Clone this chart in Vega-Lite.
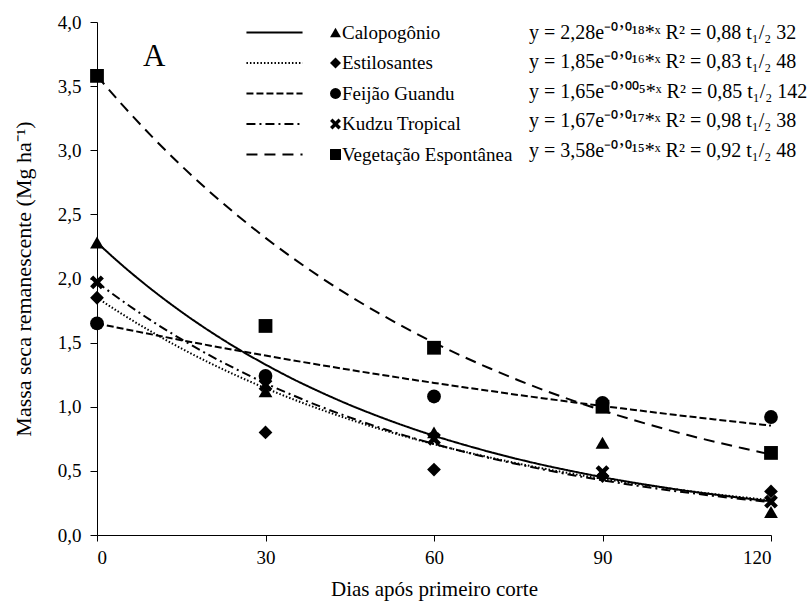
{
  "$schema": "https://vega.github.io/schema/vega-lite/v6.json",
  "autosize": "none",
  "padding": {"left": 97, "top": 22, "right": 36, "bottom": 69},
  "width": 674,
  "height": 513,
  "background": "white",
  "title": {"text": "A", "anchor": "start", "frame": "group", "fontSize": 31, "font": "Liberation Serif", "fontWeight": "normal", "color": "black", "dx": 46, "dy": 84, "offset": 0, "baseline": "alphabetic"},
  "config": {
    "font": "Liberation Serif",
    "view": {"stroke": null},
    "mark": {"color": "black"},
    "axis": {"labelFont": "Liberation Serif", "titleFont": "Liberation Serif", "labelFontSize": 19, "titleFontSize": 21, "titleFontWeight": "normal", "labelColor": "black", "titleColor": "black", "domainColor": "black", "tickColor": "black", "grid": false, "tickSize": 7, "domainWidth": 1, "tickWidth": 1},
    "legend": {"labelFont": "Liberation Serif", "labelFontSize": 19, "labelColor": "black", "padding": 0, "title": null, "labelLimit": 400}
  },
  "datasets": {
    "curvas": [
      {"serie": "Calopogônio", "dias": 0, "massa": 2.280}, {"serie": "Calopogônio", "dias": 5, "massa": 2.084}, {"serie": "Calopogônio", "dias": 10, "massa": 1.905}, {"serie": "Calopogônio", "dias": 15, "massa": 1.741}, {"serie": "Calopogônio", "dias": 20, "massa": 1.591}, {"serie": "Calopogônio", "dias": 25, "massa": 1.454}, {"serie": "Calopogônio", "dias": 30, "massa": 1.329}, {"serie": "Calopogônio", "dias": 35, "massa": 1.214}, {"serie": "Calopogônio", "dias": 40, "massa": 1.110}, {"serie": "Calopogônio", "dias": 45, "massa": 1.014}, {"serie": "Calopogônio", "dias": 50, "massa": 0.927}, {"serie": "Calopogônio", "dias": 55, "massa": 0.847}, {"serie": "Calopogônio", "dias": 60, "massa": 0.774}, {"serie": "Calopogônio", "dias": 65, "massa": 0.708}, {"serie": "Calopogônio", "dias": 70, "massa": 0.647}, {"serie": "Calopogônio", "dias": 75, "massa": 0.591}, {"serie": "Calopogônio", "dias": 80, "massa": 0.540}, {"serie": "Calopogônio", "dias": 85, "massa": 0.494}, {"serie": "Calopogônio", "dias": 90, "massa": 0.451}, {"serie": "Calopogônio", "dias": 95, "massa": 0.412}, {"serie": "Calopogônio", "dias": 100, "massa": 0.377}, {"serie": "Calopogônio", "dias": 105, "massa": 0.344}, {"serie": "Calopogônio", "dias": 110, "massa": 0.315}, {"serie": "Calopogônio", "dias": 115, "massa": 0.288}, {"serie": "Calopogônio", "dias": 120, "massa": 0.263},
      {"serie": "Estilosantes", "dias": 0, "massa": 1.850}, {"serie": "Estilosantes", "dias": 5, "massa": 1.708}, {"serie": "Estilosantes", "dias": 10, "massa": 1.577}, {"serie": "Estilosantes", "dias": 15, "massa": 1.455}, {"serie": "Estilosantes", "dias": 20, "massa": 1.343}, {"serie": "Estilosantes", "dias": 25, "massa": 1.240}, {"serie": "Estilosantes", "dias": 30, "massa": 1.145}, {"serie": "Estilosantes", "dias": 35, "massa": 1.057}, {"serie": "Estilosantes", "dias": 40, "massa": 0.976}, {"serie": "Estilosantes", "dias": 45, "massa": 0.901}, {"serie": "Estilosantes", "dias": 50, "massa": 0.831}, {"serie": "Estilosantes", "dias": 55, "massa": 0.767}, {"serie": "Estilosantes", "dias": 60, "massa": 0.708}, {"serie": "Estilosantes", "dias": 65, "massa": 0.654}, {"serie": "Estilosantes", "dias": 70, "massa": 0.604}, {"serie": "Estilosantes", "dias": 75, "massa": 0.557}, {"serie": "Estilosantes", "dias": 80, "massa": 0.514}, {"serie": "Estilosantes", "dias": 85, "massa": 0.475}, {"serie": "Estilosantes", "dias": 90, "massa": 0.438}, {"serie": "Estilosantes", "dias": 95, "massa": 0.405}, {"serie": "Estilosantes", "dias": 100, "massa": 0.374}, {"serie": "Estilosantes", "dias": 105, "massa": 0.345}, {"serie": "Estilosantes", "dias": 110, "massa": 0.318}, {"serie": "Estilosantes", "dias": 115, "massa": 0.294}, {"serie": "Estilosantes", "dias": 120, "massa": 0.271},
      {"serie": "Feijão Guandu", "dias": 0, "massa": 1.650}, {"serie": "Feijão Guandu", "dias": 5, "massa": 1.605}, {"serie": "Feijão Guandu", "dias": 10, "massa": 1.562}, {"serie": "Feijão Guandu", "dias": 15, "massa": 1.519}, {"serie": "Feijão Guandu", "dias": 20, "massa": 1.478}, {"serie": "Feijão Guandu", "dias": 25, "massa": 1.438}, {"serie": "Feijão Guandu", "dias": 30, "massa": 1.399}, {"serie": "Feijão Guandu", "dias": 35, "massa": 1.361}, {"serie": "Feijão Guandu", "dias": 40, "massa": 1.324}, {"serie": "Feijão Guandu", "dias": 45, "massa": 1.288}, {"serie": "Feijão Guandu", "dias": 50, "massa": 1.253}, {"serie": "Feijão Guandu", "dias": 55, "massa": 1.219}, {"serie": "Feijão Guandu", "dias": 60, "massa": 1.186}, {"serie": "Feijão Guandu", "dias": 65, "massa": 1.154}, {"serie": "Feijão Guandu", "dias": 70, "massa": 1.123}, {"serie": "Feijão Guandu", "dias": 75, "massa": 1.092}, {"serie": "Feijão Guandu", "dias": 80, "massa": 1.063}, {"serie": "Feijão Guandu", "dias": 85, "massa": 1.034}, {"serie": "Feijão Guandu", "dias": 90, "massa": 1.006}, {"serie": "Feijão Guandu", "dias": 95, "massa": 0.979}, {"serie": "Feijão Guandu", "dias": 100, "massa": 0.952}, {"serie": "Feijão Guandu", "dias": 105, "massa": 0.926}, {"serie": "Feijão Guandu", "dias": 110, "massa": 0.901}, {"serie": "Feijão Guandu", "dias": 115, "massa": 0.877}, {"serie": "Feijão Guandu", "dias": 120, "massa": 0.853},
      {"serie": "Kudzu Tropical", "dias": 0, "massa": 1.970}, {"serie": "Kudzu Tropical", "dias": 5, "massa": 1.810}, {"serie": "Kudzu Tropical", "dias": 10, "massa": 1.662}, {"serie": "Kudzu Tropical", "dias": 15, "massa": 1.527}, {"serie": "Kudzu Tropical", "dias": 20, "massa": 1.402}, {"serie": "Kudzu Tropical", "dias": 25, "massa": 1.288}, {"serie": "Kudzu Tropical", "dias": 30, "massa": 1.183}, {"serie": "Kudzu Tropical", "dias": 35, "massa": 1.087}, {"serie": "Kudzu Tropical", "dias": 40, "massa": 0.998}, {"serie": "Kudzu Tropical", "dias": 45, "massa": 0.917}, {"serie": "Kudzu Tropical", "dias": 50, "massa": 0.842}, {"serie": "Kudzu Tropical", "dias": 55, "massa": 0.773}, {"serie": "Kudzu Tropical", "dias": 60, "massa": 0.710}, {"serie": "Kudzu Tropical", "dias": 65, "massa": 0.653}, {"serie": "Kudzu Tropical", "dias": 70, "massa": 0.599}, {"serie": "Kudzu Tropical", "dias": 75, "massa": 0.551}, {"serie": "Kudzu Tropical", "dias": 80, "massa": 0.506}, {"serie": "Kudzu Tropical", "dias": 85, "massa": 0.464}, {"serie": "Kudzu Tropical", "dias": 90, "massa": 0.427}, {"serie": "Kudzu Tropical", "dias": 95, "massa": 0.392}, {"serie": "Kudzu Tropical", "dias": 100, "massa": 0.360}, {"serie": "Kudzu Tropical", "dias": 105, "massa": 0.331}, {"serie": "Kudzu Tropical", "dias": 110, "massa": 0.304}, {"serie": "Kudzu Tropical", "dias": 115, "massa": 0.279}, {"serie": "Kudzu Tropical", "dias": 120, "massa": 0.256},
      {"serie": "Vegetação Espontânea", "dias": 0, "massa": 3.580}, {"serie": "Vegetação Espontânea", "dias": 5, "massa": 3.330}, {"serie": "Vegetação Espontânea", "dias": 10, "massa": 3.097}, {"serie": "Vegetação Espontânea", "dias": 15, "massa": 2.880}, {"serie": "Vegetação Espontânea", "dias": 20, "massa": 2.679}, {"serie": "Vegetação Espontânea", "dias": 25, "massa": 2.492}, {"serie": "Vegetação Espontânea", "dias": 30, "massa": 2.317}, {"serie": "Vegetação Espontânea", "dias": 35, "massa": 2.155}, {"serie": "Vegetação Espontânea", "dias": 40, "massa": 2.004}, {"serie": "Vegetação Espontânea", "dias": 45, "massa": 1.864}, {"serie": "Vegetação Espontânea", "dias": 50, "massa": 1.734}, {"serie": "Vegetação Espontânea", "dias": 55, "massa": 1.613}, {"serie": "Vegetação Espontânea", "dias": 60, "massa": 1.500}, {"serie": "Vegetação Espontânea", "dias": 65, "massa": 1.395}, {"serie": "Vegetação Espontânea", "dias": 70, "massa": 1.298}, {"serie": "Vegetação Espontânea", "dias": 75, "massa": 1.207}, {"serie": "Vegetação Espontânea", "dias": 80, "massa": 1.122}, {"serie": "Vegetação Espontânea", "dias": 85, "massa": 1.044}, {"serie": "Vegetação Espontânea", "dias": 90, "massa": 0.971}, {"serie": "Vegetação Espontânea", "dias": 95, "massa": 0.903}, {"serie": "Vegetação Espontânea", "dias": 100, "massa": 0.840}, {"serie": "Vegetação Espontânea", "dias": 105, "massa": 0.781}, {"serie": "Vegetação Espontânea", "dias": 110, "massa": 0.727}, {"serie": "Vegetação Espontânea", "dias": 115, "massa": 0.676}, {"serie": "Vegetação Espontânea", "dias": 120, "massa": 0.628}
    ],
    "pontos": [
      {"serie": "Calopogônio", "equacao": "y = 2,28e⁻⁰ʼ⁰¹⁸*ˣ R² = 0,88 t₁/₂ 32", "dias": 0, "massa": 2.28},
      {"serie": "Calopogônio", "equacao": "y = 2,28e⁻⁰ʼ⁰¹⁸*ˣ R² = 0,88 t₁/₂ 32", "dias": 30, "massa": 1.12},
      {"serie": "Calopogônio", "equacao": "y = 2,28e⁻⁰ʼ⁰¹⁸*ˣ R² = 0,88 t₁/₂ 32", "dias": 60, "massa": 0.80},
      {"serie": "Calopogônio", "equacao": "y = 2,28e⁻⁰ʼ⁰¹⁸*ˣ R² = 0,88 t₁/₂ 32", "dias": 90, "massa": 0.72},
      {"serie": "Calopogônio", "equacao": "y = 2,28e⁻⁰ʼ⁰¹⁸*ˣ R² = 0,88 t₁/₂ 32", "dias": 120, "massa": 0.18},
      {"serie": "Estilosantes", "equacao": "y = 1,85e⁻⁰ʼ⁰¹⁶*ˣ R² = 0,83 t₁/₂ 48", "dias": 0, "massa": 1.85},
      {"serie": "Estilosantes", "equacao": "y = 1,85e⁻⁰ʼ⁰¹⁶*ˣ R² = 0,83 t₁/₂ 48", "dias": 30, "massa": 0.80},
      {"serie": "Estilosantes", "equacao": "y = 1,85e⁻⁰ʼ⁰¹⁶*ˣ R² = 0,83 t₁/₂ 48", "dias": 60, "massa": 0.51},
      {"serie": "Estilosantes", "equacao": "y = 1,85e⁻⁰ʼ⁰¹⁶*ˣ R² = 0,83 t₁/₂ 48", "dias": 90, "massa": 0.46},
      {"serie": "Estilosantes", "equacao": "y = 1,85e⁻⁰ʼ⁰¹⁶*ˣ R² = 0,83 t₁/₂ 48", "dias": 120, "massa": 0.34},
      {"serie": "Feijão Guandu", "equacao": "y = 1,65e⁻⁰ʼ⁰⁰⁵*ˣ R² = 0,85 t₁/₂ 142", "dias": 0, "massa": 1.65},
      {"serie": "Feijão Guandu", "equacao": "y = 1,65e⁻⁰ʼ⁰⁰⁵*ˣ R² = 0,85 t₁/₂ 142", "dias": 30, "massa": 1.24},
      {"serie": "Feijão Guandu", "equacao": "y = 1,65e⁻⁰ʼ⁰⁰⁵*ˣ R² = 0,85 t₁/₂ 142", "dias": 60, "massa": 1.08},
      {"serie": "Feijão Guandu", "equacao": "y = 1,65e⁻⁰ʼ⁰⁰⁵*ˣ R² = 0,85 t₁/₂ 142", "dias": 90, "massa": 1.03},
      {"serie": "Feijão Guandu", "equacao": "y = 1,65e⁻⁰ʼ⁰⁰⁵*ˣ R² = 0,85 t₁/₂ 142", "dias": 120, "massa": 0.92},
      {"serie": "Kudzu Tropical", "equacao": "y = 1,67e⁻⁰ʼ⁰¹⁷*ˣ R² = 0,98 t₁/₂ 38", "dias": 0, "massa": 1.97},
      {"serie": "Kudzu Tropical", "equacao": "y = 1,67e⁻⁰ʼ⁰¹⁷*ˣ R² = 0,98 t₁/₂ 38", "dias": 30, "massa": 1.17},
      {"serie": "Kudzu Tropical", "equacao": "y = 1,67e⁻⁰ʼ⁰¹⁷*ˣ R² = 0,98 t₁/₂ 38", "dias": 60, "massa": 0.75},
      {"serie": "Kudzu Tropical", "equacao": "y = 1,67e⁻⁰ʼ⁰¹⁷*ˣ R² = 0,98 t₁/₂ 38", "dias": 90, "massa": 0.49},
      {"serie": "Kudzu Tropical", "equacao": "y = 1,67e⁻⁰ʼ⁰¹⁷*ˣ R² = 0,98 t₁/₂ 38", "dias": 120, "massa": 0.26},
      {"serie": "Vegetação Espontânea", "equacao": "y = 3,58e⁻⁰ʼ⁰¹⁵*ˣ R² = 0,92 t₁/₂ 48", "dias": 0, "massa": 3.58},
      {"serie": "Vegetação Espontânea", "equacao": "y = 3,58e⁻⁰ʼ⁰¹⁵*ˣ R² = 0,92 t₁/₂ 48", "dias": 30, "massa": 1.63},
      {"serie": "Vegetação Espontânea", "equacao": "y = 3,58e⁻⁰ʼ⁰¹⁵*ˣ R² = 0,92 t₁/₂ 48", "dias": 60, "massa": 1.46},
      {"serie": "Vegetação Espontânea", "equacao": "y = 3,58e⁻⁰ʼ⁰¹⁵*ˣ R² = 0,92 t₁/₂ 48", "dias": 90, "massa": 1.00},
      {"serie": "Vegetação Espontânea", "equacao": "y = 3,58e⁻⁰ʼ⁰¹⁵*ˣ R² = 0,92 t₁/₂ 48", "dias": 120, "massa": 0.64}
    ]
  },
  "layer": [
    {
      "data": {"name": "curvas"},
      "mark": {"type": "line", "strokeWidth": 2, "color": "black", "interpolate": "monotone"},
      "encoding": {
        "x": {"field": "dias", "type": "quantitative", "scale": {"domain": [0, 120], "nice": false},
              "axis": {"values": [0, 30, 60, 90, 120], "title": "Dias após primeiro corte", "labelPadding": 7, "titlePadding": 11, "tickSize": 6}},
        "y": {"field": "massa", "type": "quantitative", "scale": {"domain": [0, 4], "nice": false},
              "axis": {"values": [0, 0.5, 1, 1.5, 2, 2.5, 3, 3.5, 4], "labelExpr": "replace(format(datum.value, '.1f'), '.', ',')", "title": "Massa seca remanescente (Mg ha⁻¹)", "titleFontSize": 22, "labelPadding": 9, "titlePadding": 22}},
        "strokeDash": {"field": "serie", "type": "nominal",
              "scale": {"range": [[1, 0], [1.5, 2], [7, 3], [9, 4, 2, 4], [11, 7]]},
              "legend": {"orient": "none", "legendX": 168, "legendY": 1, "symbolType": "M-3.3,0H3.3", "symbolSize": 289, "symbolStrokeWidth": 2, "symbolStrokeColor": "black", "labelExpr": "''", "labelFontSize": 19, "rowPadding": 10.5}}
      }
    },
    {
      "data": {"name": "pontos"},
      "mark": {"type": "point", "filled": true, "size": 190, "opacity": 1},
      "encoding": {
        "x": {"field": "dias", "type": "quantitative"},
        "y": {"field": "massa", "type": "quantitative"},
        "shape": {"field": "serie", "type": "nominal",
              "scale": {"range": ["triangle-up", "diamond", "circle", "M-1,-0.55L-0.55,-1L0,-0.45L0.55,-1L1,-0.55L0.45,0L1,0.55L0.55,1L0,0.45L-0.55,1L-1,0.55L-0.45,0Z", "square"]},
              "legend": {"orient": "none", "legendX": 229, "legendY": 1, "symbolSize": 120, "symbolFillColor": "black", "symbolStrokeColor": "black", "symbolStrokeWidth": 0, "labelOffset": -3, "rowPadding": 10.5}},
        "color": {"field": "equacao", "type": "nominal",
              "scale": {"domain": ["y = 2,28e⁻⁰ʼ⁰¹⁸*ˣ R² = 0,88 t₁/₂ 32", "y = 1,85e⁻⁰ʼ⁰¹⁶*ˣ R² = 0,83 t₁/₂ 48", "y = 1,65e⁻⁰ʼ⁰⁰⁵*ˣ R² = 0,85 t₁/₂ 142", "y = 1,67e⁻⁰ʼ⁰¹⁷*ˣ R² = 0,98 t₁/₂ 38", "y = 3,58e⁻⁰ʼ⁰¹⁵*ˣ R² = 0,92 t₁/₂ 48"], "range": ["black", "black", "black", "black", "black"]},
              "legend": {"orient": "none", "legendX": 412, "legendY": 0.5, "symbolSize": 0, "symbolOpacity": 0, "labelOffset": 0, "labelFontSize": 20, "rowPadding": 9.5}}
      }
    }
  ]
}
